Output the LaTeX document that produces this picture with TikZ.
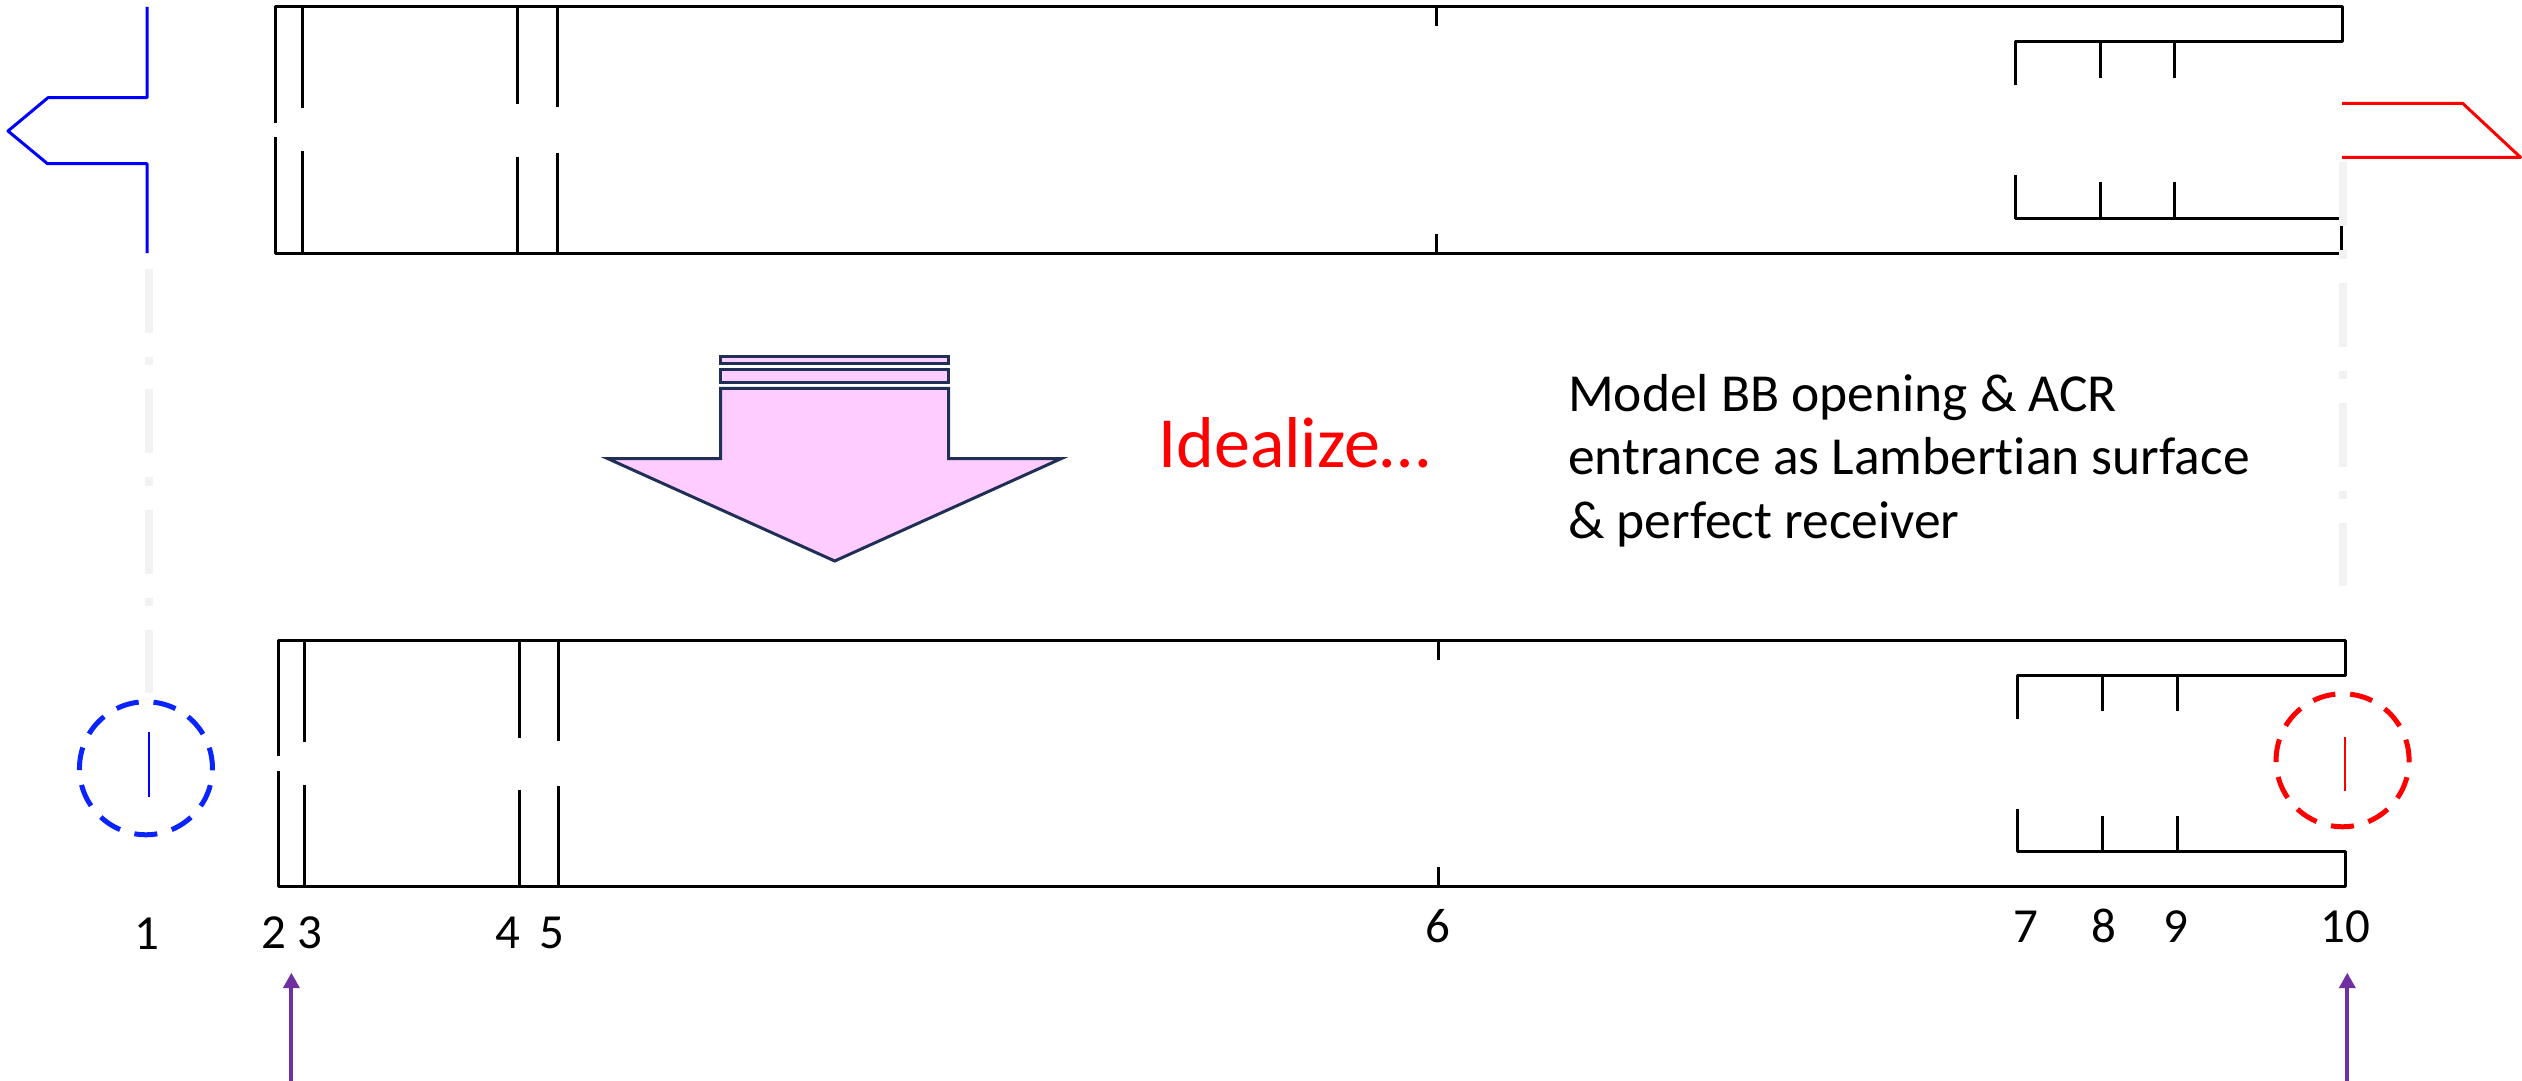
\documentclass[tikz,border=0pt]{standalone}
\usepackage{fontspec}
\setmainfont[Ligatures=NoCommon]{Carlito}
\usetikzlibrary{arrows.meta}
\definecolor{grayline}{HTML}{F2F2F2}
\definecolor{bluedash}{HTML}{0A24FF}
\definecolor{purplearrow}{HTML}{7030A0}
\definecolor{arrowfill}{HTML}{FFCCFF}
\definecolor{arrowedge}{HTML}{1F2F55}
\tikzset{
  wall/.style={draw=black,line width=3pt,line cap=butt,line join=round},
  bluewall/.style={draw=blue,line width=3pt,line join=round},
  redwall/.style={draw=red,line width=3pt,line join=round},
  centerline/.style={draw=grayline,line width=8pt,dash pattern=on 64pt off 24pt on 8.3pt off 24pt},
  dashcirc/.style={line width=5pt,dash pattern=on 23pt off 15pt},
  numlabel/.style={inner sep=0pt,anchor=base,font=\fontsize{49}{49}\selectfont},
  bodytext/.style={inner sep=0pt,anchor=base west,font=\fontsize{53.5}{53.5}\selectfont},
  bigarrow/.style={draw=arrowedge,fill=arrowfill,line width=3pt,line join=miter},
  purple/.style={draw=purplearrow,line width=4pt,-{Triangle[length=15.5pt,width=16pt]}}
}
\begin{document}
\begin{tikzpicture}[x=1pt,y=-1pt]
\useasboundingbox (0,0) rectangle (2522,1081);
% grey centre lines
\draw[centerline] (149.2,269) -- (149.2,693);
\draw[centerline] (2343.2,162.3) -- (2343.2,586);
% blue source (top)
\draw[bluewall] (147,7) -- (147,97.7) -- (48,97.7) -- (8,131) -- (47.5,163.7) -- (147,163.7) -- (147,253);
% red outlet (top)
\draw[redwall] (2342,103.3) -- (2462.6,103.3) -- (2520.5,157.3) -- (2342,157.3);
% top assembly
\draw[wall] (275.6,122.7) -- (275.6,6.5) -- (2342,6.5) -- (2342,41.3) -- (2015,41.3) -- (2015,85);
\draw[wall] (275.6,137) -- (275.6,253.6) -- (2339,253.6);
\draw[wall] (2015,175) -- (2015,218.3) -- (2339,218.3);
\draw[wall] (2341.7,226) -- (2341.7,250);
\foreach \x/\a/\b in {302/108.3/151.3,517/104.3/156.7,557/107/152.7}{
  \draw[wall] (\x,6.5) -- (\x,\a);
  \draw[wall] (\x,\b) -- (\x,253.6);
}
\draw[wall] (1436,6.5) -- (1436,26);
\draw[wall] (1436,234) -- (1436,253.6);
\foreach \x in {2100,2174}{
  \draw[wall] (\x,41.3) -- (\x,77.7);
  \draw[wall] (\x,181.7) -- (\x,218.3);
}
% big arrow
\draw[bigarrow] (720.6,356) rectangle (948.5,363);
\draw[bigarrow] (720.6,369) rectangle (948.5,382.3);
\draw[bigarrow] (720.6,388.3) -- (948.5,388.3) -- (948.5,458.7) -- (1061,458.7) -- (834.7,561) -- (608,458.7) -- (720.6,458.7) -- cycle;
% texts
\node[inner sep=0pt,anchor=base west,text=red,font=\fontsize{72}{72}\selectfont] (ideal) at (1158,467) {Idealize…};
\node[bodytext] (m1) at (1568,411.3) {Model BB opening \& ACR};
\node[bodytext] (m2) at (1568,474.7) {entrance as Lambertian surface};
\node[bodytext] (m3) at (1568,538.7) {\& perfect receiver};
% lower assembly
\draw[wall] (278,756.3) -- (278,640) -- (2345,640) -- (2345,675.3) -- (2017.5,675.3) -- (2017.5,718.7);
\draw[wall] (278,771) -- (278,886.7) -- (2345,886.7) -- (2345,851.3) -- (2017.5,851.3) -- (2017.5,808.7);
\foreach \x/\a/\b in {304/742.3/784.7,519.6/738.3/790.3,558.7/741/786.3}{
  \draw[wall] (\x,640) -- (\x,\a);
  \draw[wall] (\x,\b) -- (\x,886.7);
}
\draw[wall] (1438.7,640) -- (1438.7,659.7);
\draw[wall] (1438.7,867.3) -- (1438.7,886.7);
\foreach \x in {2102.9,2177}{
  \draw[wall] (\x,675.3) -- (\x,711.3);
  \draw[wall] (\x,815.7) -- (\x,851.3);
}
% idealized surfaces
\draw[draw=blue,line width=2.8pt] (149,731.7) -- (149,797);
\draw[draw=red,line width=2.8pt] (2345,737.3) -- (2345,791.3);
\draw[dashcirc,draw=bluedash] (153.5,702.2) arc[start angle=83.5,delta angle=-360,radius=66.5pt];
\draw[dashcirc,draw=red] (2350.1,694.2) arc[start angle=83.5,delta angle=-360,radius=66.5pt];
% numbers
\node[numlabel] (n1) at (146.7,949) {1};
\node[numlabel] (n2) at (274,948) {2};
\node[numlabel] (n3) at (310,948) {3};
\node[numlabel] (n4) at (507.7,948) {4};
\node[numlabel] (n5) at (552,948) {5};
\node[numlabel] (n6) at (1438,942) {6};
\node[numlabel] (n7) at (2025.5,942.5) {7};
\node[numlabel] (n8) at (2104,942.5) {8};
\node[numlabel] (n9) at (2175.8,942.5) {9};
\node[numlabel] (n10) at (2345,942.5) {10};
% purple arrows
\coordinate (pa) at (291.4,1081);
\coordinate (pat) at (291.4,972.7);
\coordinate (pb) at (2347.3,1081);
\coordinate (pbt) at (2347.3,972.7);
\draw[purple] (pa) -- (pat);
\draw[purple] (pb) -- (pbt);
\end{tikzpicture}
\end{document}
